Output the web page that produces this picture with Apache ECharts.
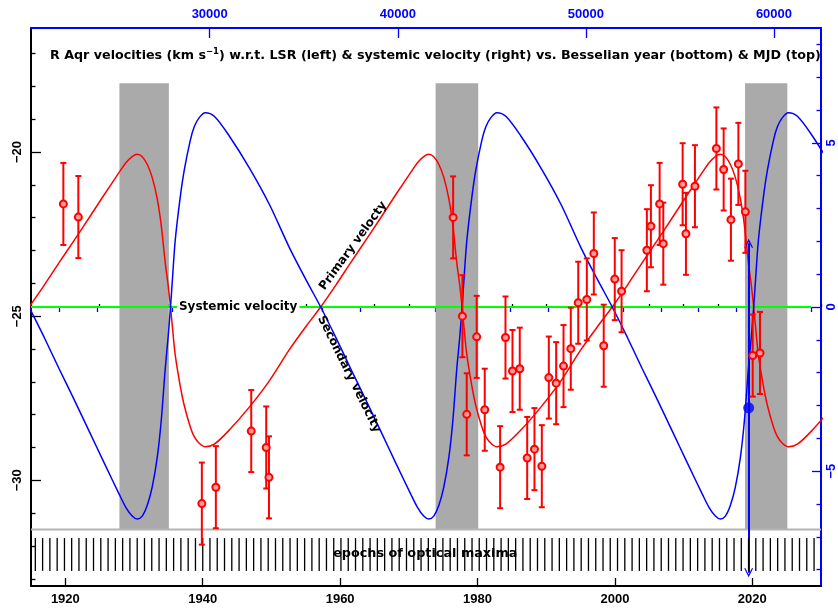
<!DOCTYPE html>
<html>
<head>
<meta charset="utf-8">
<script src="https://cdn.jsdelivr.net/npm/echarts@6/dist/echarts.min.js"></script>
<style>
  html, body { margin: 0; padding: 0; background: #fff; }
  #chart { width: 838px; height: 610px; }
</style>
</head>
<body>
<div id="chart"></div>
<script>
// observed radial velocities (km/s, LSR) with error bars
const obsYear = [1919.71, 1921.89, 1939.87, 1941.91, 1947.06, 1949.24, 1949.64,
  1976.45, 1977.80, 1978.43, 1979.88, 1981.05, 1983.29, 1984.07, 1985.09, 1986.15,
  1987.23, 1988.29, 1989.36, 1990.38, 1991.45, 1992.52, 1993.58, 1994.66, 1995.91,
  1996.93, 1998.37, 1999.98, 2000.97, 2004.65, 2005.24, 2006.51, 2007.04, 2009.86,
  2010.34, 2011.65, 2014.77, 2015.83, 2016.89, 2017.97, 2018.99, 2020.06, 2021.12];
const obsVel = [-21.58, -21.98, -30.71, -30.21, -28.50, -29.00, -29.91,
  -21.99, -25.00, -27.99, -25.63, -27.85, -29.60, -25.65, -26.67, -26.60,
  -29.32, -29.05, -29.57, -26.87, -27.04, -26.52, -25.99, -24.59, -24.49,
  -23.09, -25.90, -23.87, -24.24, -22.99, -22.26, -21.58, -22.79, -20.98,
  -22.49, -21.04, -19.89, -20.53, -22.06, -20.36, -21.82, -26.20, -26.12];
const obsErr = [1.25, 1.25, 1.25, 1.25, 1.25, 1.25, 1.25,
  1.25, 1.25, 1.25, 1.25, 1.25, 1.25, 1.25, 1.25, 1.25,
  1.25, 1.25, 1.25, 1.25, 1.25, 1.25, 1.25, 1.25, 1.25,
  1.25, 1.25, 1.25, 1.25, 1.25, 1.25, 1.25, 1.25, 1.25,
  1.25, 1.25, 1.25, 1.25, 1.25, 1.25, 1.25, 1.25, 1.25];

// orbit curves, velocity relative to systemic (right axis)
const curveYear = [1914.72, 1916.91, 1919.09, 1921.28, 1923.46, 1925.65, 1927.83, 1928.85,
  1929.73, 1930.46, 1931.19, 1931.91, 1932.64, 1933.37, 1933.95, 1934.54, 1934.97, 1935.31,
  1935.56, 1935.99, 1936.72, 1937.31, 1938.18, 1938.76, 1939.49, 1940.37, 1941.68, 1943.86,
  1946.78, 1949.69, 1952.61, 1955.08,
  1957.17, 1959.35, 1961.54, 1963.72, 1965.91, 1968.09, 1970.28, 1971.30,
  1972.17, 1972.90, 1973.63, 1974.36, 1975.09, 1975.82, 1976.40, 1976.98, 1977.42, 1977.75,
  1978.00, 1978.44, 1979.17, 1979.75, 1980.62, 1981.21, 1981.94, 1982.81, 1984.12, 1986.31,
  1989.22, 1992.14, 1995.05, 1997.53,
  1999.61, 2001.80, 2003.98, 2006.17, 2008.35, 2010.54, 2012.72, 2013.74,
  2014.62, 2015.35, 2016.08, 2016.80, 2017.53, 2018.26, 2018.84, 2019.43, 2019.86, 2020.20,
  2020.45, 2020.88, 2021.61, 2022.20, 2023.07, 2023.65, 2024.38, 2025.26, 2026.57, 2028.75,
  2031.67];
const primaryVel = [0, 0.66, 1.35, 2.03, 2.72, 3.42, 4.10, 4.40, 4.58, 4.65, 4.58, 4.35, 3.95,
  3.30, 2.50, 1.35, 0.65, 0, -0.55, -1.45, -2.40, -3.00, -3.65, -3.95, -4.15, -4.26, -4.18,
  -3.75, -3.05, -2.25, -1.30, -0.58,
  0, 0.66, 1.35, 2.03, 2.72, 3.42, 4.10, 4.40, 4.58, 4.65, 4.58, 4.35, 3.95,
  3.30, 2.50, 1.35, 0.65, 0, -0.55, -1.45, -2.40, -3.00, -3.65, -3.95, -4.15, -4.26, -4.18,
  -3.75, -3.05, -2.25, -1.30, -0.58,
  0, 0.66, 1.35, 2.03, 2.72, 3.42, 4.10, 4.40, 4.58, 4.65, 4.58, 4.35, 3.95,
  3.30, 2.50, 1.35, 0.65, 0, -0.55, -1.45, -2.40, -3.00, -3.65, -3.95, -4.15, -4.26, -4.18,
  -3.75, -3.05];
const secondaryVel = [0, -0.92, -1.88, -2.82, -3.78, -4.75, -5.70, -6.12, -6.37, -6.46, -6.37,
  -6.05, -5.49, -4.59, -3.48, -1.88, -0.90, 0, 0.76, 2.02, 3.34, 4.17, 5.07, 5.49, 5.77, 5.92,
  5.81, 5.21, 4.24, 3.13, 1.81, 0.81,
  0, -0.92, -1.88, -2.82, -3.78, -4.75, -5.70, -6.12, -6.37, -6.46, -6.37,
  -6.05, -5.49, -4.59, -3.48, -1.88, -0.90, 0, 0.76, 2.02, 3.34, 4.17, 5.07, 5.49, 5.77, 5.92,
  5.81, 5.21, 4.24, 3.13, 1.81, 0.81,
  0, -0.92, -1.88, -2.82, -3.78, -4.75, -5.70, -6.12, -6.37, -6.46, -6.37,
  -6.05, -5.49, -4.59, -3.48, -1.88, -0.90, 0, 0.76, 2.02, 3.34, 4.17, 5.07, 5.49, 5.77, 5.92,
  5.81, 5.21, 4.24];

// epochs of optical maxima (Besselian year)
const maximaYear = [1915.63, 1916.69, 1917.75, 1918.81, 1919.87, 1920.92, 1921.98, 1923.04,
  1924.10, 1925.16, 1926.22, 1927.28, 1928.34, 1929.40, 1930.46, 1931.52, 1932.58, 1933.64,
  1934.70, 1935.76, 1936.82, 1937.88, 1938.94, 1940.00, 1941.05, 1942.11, 1943.17, 1944.23,
  1945.29, 1946.35, 1947.41, 1948.47, 1949.53, 1950.59, 1951.65, 1952.71, 1953.77, 1954.83,
  1955.89, 1956.95, 1958.01, 1959.07, 1960.12, 1961.18, 1962.24, 1963.30, 1964.36, 1965.42,
  1966.48, 1967.54, 1968.60, 1969.66, 1970.72, 1971.78, 1972.84, 1973.90, 1974.96, 1976.02,
  1977.08, 1978.14, 1979.20, 1980.25, 1981.31, 1982.37, 1983.43, 1984.49, 1985.55, 1986.61,
  1987.67, 1988.73, 1989.79, 1990.85, 1991.91, 1992.97, 1994.03, 1995.09, 1996.15, 1997.21,
  1998.27, 1999.32, 2000.38, 2001.44, 2002.50, 2003.56, 2004.62, 2005.68, 2006.74, 2007.80,
  2008.86, 2009.92, 2010.98, 2012.04, 2013.10, 2014.16, 2015.22, 2016.28, 2017.34, 2018.40,
  2019.45, 2020.51, 2021.57, 2022.63, 2023.69, 2024.75, 2025.81, 2026.87, 2027.93, 2028.99];

// grey shaded intervals [start, end]
const bandStart = [1927.87, 1973.90, 2018.94];
const bandEnd = [1935.07, 1980.10, 2025.10];

const systemicVel = -24.72;
const markerYear = 2019.47;
const markerVel = -27.79;

// ticks
const yearMajor = [1920, 1940, 1960, 1980, 2000, 2020];
const yearMinor = [1915, 1925, 1930, 1935, 1945, 1950, 1955, 1965, 1970, 1975, 1985, 1990,
  1995, 2005, 2010, 2015, 2025, 2030];
const mjdMajor = [30000, 40000, 50000, 60000];
const mjdMinor = [22000, 24000, 26000, 28000, 32000, 34000, 36000, 38000, 42000, 44000, 46000,
  48000, 52000, 54000, 56000, 58000, 62000];
const leftMajor = [-30, -25, -20];
const leftMinor = [-33, -32, -31, -29, -28, -27, -26, -24, -23, -22, -21, -19, -18, -17];
const rightMajor = [-5, 0, 5];
const rightMinor = [-8, -7, -6, -4, -3, -2, -1, 1, 2, 3, 4, 6, 7, 8];

const FONT = 'Liberation Sans';
const TFONT = 'DejaVu Sans';
const plain = v => String(Math.round(v)).replace('-', '\u2212');

const chart = echarts.init(document.getElementById('chart'));

const lblStyle = (color) => ({
  color: color, fontSize: 13, fontWeight: 'bold', fontFamily: FONT
});

// error bars
const renderErr = (params, api) => {
  const x = api.value(0), y = api.value(1), e = api.value(2);
  const top = api.coord([x, y + e]);
  const bot = api.coord([x, y - e]);
  const st = { stroke: '#ff0000', lineWidth: 2 };
  return {
    type: 'group',
    children: [
      { type: 'line', shape: { x1: top[0], y1: top[1], x2: bot[0], y2: bot[1] }, style: st },
      { type: 'line', shape: { x1: top[0] - 3, y1: top[1], x2: top[0] + 3, y2: top[1] }, style: st },
      { type: 'line', shape: { x1: bot[0] - 3, y1: bot[1], x2: bot[0] + 3, y2: bot[1] }, style: st }
    ]
  };
};

// little vertical lines for maxima
const renderMax = (params, api) => {
  const x = api.value(0);
  const a = api.coord([x, -31.76]);
  const b = api.coord([x, -32.76]);
  return {
    type: 'line',
    shape: { x1: a[0], y1: a[1], x2: b[0], y2: b[1] },
    style: { stroke: '#000', lineWidth: 1.3 }
  };
};

const chevron = 'path://M0,10L5,0L10,10L8.6,10L5,3.2L1.4,10Z';

const option = {
  animation: false,
  backgroundColor: '#fff',
  grid: { left: 31, right: 17, top: 28, bottom: 24 },
  title: {
    text: 'R Aqr velocities (km s{sup|\u22121}) w.r.t. LSR (left) & systemic velocity (right) vs. Besselian year (bottom) & MJD (top)',
    left: 45,
    top: 42,
    textStyle: {
      color: '#000', fontSize: 12.7, fontWeight: 'bold', fontFamily: TFONT, lineHeight: 18,
      rich: { sup: { fontSize: 8.5, fontWeight: 'bold', fontFamily: TFONT, verticalAlign: 'top', lineHeight: 18, padding: [0, 0, 7, 0] } }
    }
  },
  xAxis: [
    {
      type: 'value', position: 'bottom', min: 1915, max: 2030,
      axisLine: { onZero: false, lineStyle: { color: '#000', width: 2 } },
      axisTick: { inside: true, length: 8, customValues: yearMajor, lineStyle: { color: '#000', width: 1.3 } },
      axisLabel: { customValues: yearMajor, margin: 7, formatter: plain, ...lblStyle('#000') },
      splitLine: { show: false }
    },
    {
      type: 'value', position: 'bottom', min: 1915, max: 2030,
      axisLine: { show: false },
      axisTick: { inside: true, length: 3, customValues: yearMinor, lineStyle: { color: '#000', width: 1.3 } },
      axisLabel: { show: false },
      splitLine: { show: false }
    },
    {
      type: 'value', position: 'top', min: 20498.45, max: 62501.30,
      axisLine: { onZero: false, lineStyle: { color: '#0000ff', width: 2 } },
      axisTick: { inside: true, length: 10, customValues: mjdMajor, lineStyle: { color: '#0000ff', width: 1.3 } },
      axisLabel: { customValues: mjdMajor, margin: 7, formatter: plain, ...lblStyle('#0000ff') },
      splitLine: { show: false }
    },
    {
      type: 'value', position: 'top', min: 20498.45, max: 62501.30,
      axisLine: { show: false },
      axisTick: { inside: true, length: 5, customValues: mjdMinor, lineStyle: { color: '#0000ff', width: 1.3 } },
      axisLabel: { show: false },
      splitLine: { show: false }
    }
  ],
  yAxis: [
    {
      type: 'value', position: 'left', min: systemicVel - 8.5, max: systemicVel + 8.5,
      axisLine: { show: true, onZero: false, lineStyle: { color: '#000', width: 2 } },
      axisTick: { show: true, inside: true, length: 10, customValues: leftMajor, lineStyle: { color: '#000', width: 1.3 } },
      axisLabel: { customValues: leftMajor, rotate: 90, margin: 7, formatter: plain, ...lblStyle('#000') },
      splitLine: { show: false }
    },
    {
      type: 'value', position: 'left', min: systemicVel - 8.5, max: systemicVel + 8.5,
      axisLine: { show: false },
      axisTick: { show: true, inside: true, length: 4.5, customValues: leftMinor, lineStyle: { color: '#000', width: 1.3 } },
      axisLabel: { show: false },
      splitLine: { show: false }
    },
    {
      type: 'value', position: 'right', min: -8.5, max: 8.5,
      axisLine: { show: true, onZero: false, lineStyle: { color: '#0000ff', width: 2 } },
      axisTick: { show: true, inside: true, length: 9, customValues: rightMajor, lineStyle: { color: '#0000ff', width: 1.3 } },
      axisLabel: { customValues: rightMajor, rotate: 90, margin: 4, formatter: plain, ...lblStyle('#0000ff') },
      splitLine: { show: false }
    },
    {
      type: 'value', position: 'right', min: -8.5, max: 8.5,
      axisLine: { show: false },
      axisTick: { show: true, inside: true, length: 4.5, customValues: rightMinor, lineStyle: { color: '#0000ff', width: 1.3 } },
      axisLabel: { show: false },
      splitLine: { show: false }
    }
  ],
  series: [
    {
      // grey separator + shaded bands
      type: 'line', z: 1, xAxisIndex: 0, yAxisIndex: 0,
      data: [[1915, -31.5], [2030, -31.5]],
      symbol: 'none',
      lineStyle: { color: '#b4b4b4', width: 2 },
      markArea: {
        silent: true,
        itemStyle: { color: '#aaaaaa' },
        data: bandStart.map((s, i) => [{ xAxis: s, yAxis: -31.5 }, { xAxis: bandEnd[i], yAxis: -17.9 }])
      }
    },
    {
      name: 'Systemic velocity', type: 'line', z: 3, xAxisIndex: 0, yAxisIndex: 2,
      data: [[1915, 0], [2028.6, 0]],
      symbol: 'none',
      lineStyle: { color: '#00ff00', width: 2 }
    },
    {
      name: 'Primary velocity', type: 'line', z: 4, xAxisIndex: 0, yAxisIndex: 2,
      data: curveYear.map((t, i) => [t, primaryVel[i]]),
      symbol: 'none', smooth: 0.3,
      lineStyle: { color: '#ff0000', width: 1.5 }
    },
    {
      name: 'Secondary velocity', type: 'line', z: 4, xAxisIndex: 0, yAxisIndex: 2,
      data: curveYear.map((t, i) => [t, secondaryVel[i]]),
      symbol: 'none', smooth: 0.3,
      lineStyle: { color: '#0000ff', width: 1.5 }
    },
    {
      type: 'custom', z: 5, xAxisIndex: 0, yAxisIndex: 0,
      renderItem: renderMax,
      data: maximaYear.map(t => [t, -32.26]),
      encode: { x: 0, y: 1 }
    },
    {
      type: 'custom', z: 6, xAxisIndex: 0, yAxisIndex: 0,
      renderItem: renderErr,
      data: obsYear.map((t, i) => [t, obsVel[i], obsErr[i]]),
      encode: { x: 0, y: 1 }
    },
    {
      type: 'scatter', z: 7, xAxisIndex: 0, yAxisIndex: 0,
      data: obsYear.map((t, i) => [t, obsVel[i]]),
      symbol: 'circle', symbolSize: 7,
      itemStyle: { color: '#ff9a9a', borderColor: '#ff0000', borderWidth: 2, opacity: 1 }
    },
    {
      type: 'scatter', z: 8, xAxisIndex: 0, yAxisIndex: 0,
      data: [[markerYear, markerVel]],
      symbol: 'circle', symbolSize: 11,
      itemStyle: { color: '#0000ff' },
      markLine: {
        silent: true,
        symbol: [chevron, chevron],
        symbolSize: [9, 9],
        label: { show: false },
        lineStyle: { color: '#0000ff', width: 2, type: 'solid' },
        data: [[{ coord: [markerYear, -22.78] }, { coord: [markerYear, -32.82] }]]
      }
    }
  ]
};

chart.setOption(option);

// text annotations placed in data coordinates
const notes = [
  { text: 'Systemic velocity', at: [1945.16, systemicVel], rot: 0, bg: '#fff', size: 12 },
  { text: 'Primary velocty', at: [1961.9, -22.86], rot: 54, size: 12 },
  { text: 'Secondary velocity', at: [1961.3, -26.77], rot: -63.7, size: 12 },
  { text: 'epochs of optical maxima', at: [1972.4, -32.25], rot: 0, size: 12.8 }
];
chart.setOption({
  graphic: notes.map(n => {
    const p = chart.convertToPixel({ seriesIndex: 5 }, n.at);
    return {
      type: 'text', x: p[0], y: p[1], z: 100,
      rotation: n.rot * Math.PI / 180,
      style: {
        text: n.text, fill: '#000', font: 'bold ' + n.size + 'px "' + TFONT + '"',
        align: 'center', verticalAlign: 'middle',
        backgroundColor: n.bg, padding: n.bg ? [0, 2] : 0
      }
    };
  })
});
</script>
</body>
</html>
